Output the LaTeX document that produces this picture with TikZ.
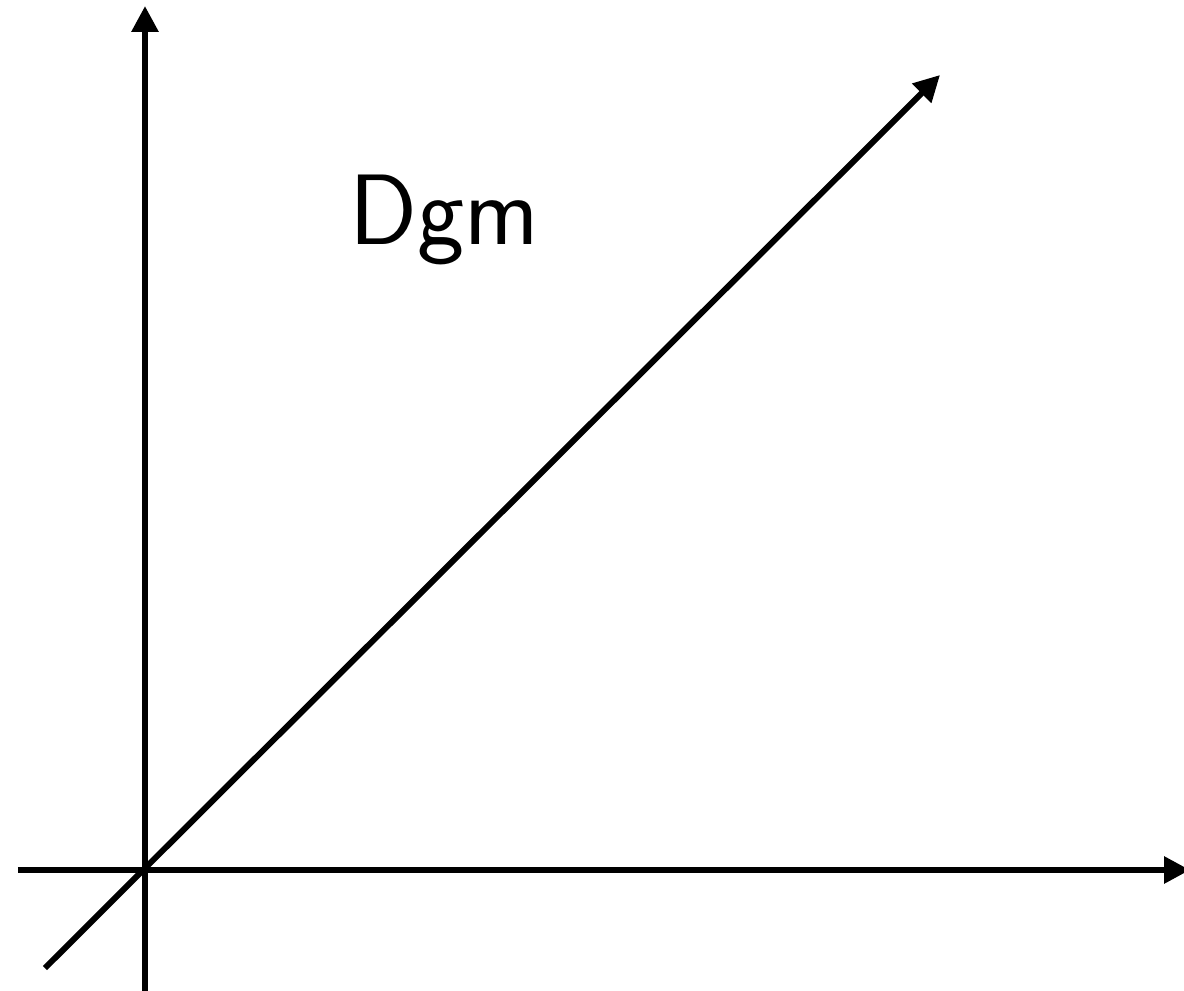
\documentclass[tikz,border=0pt]{standalone}
\usepackage{tikz}
\usetikzlibrary{arrows.meta}

\begin{document}
\begin{tikzpicture}[scale=1.0,
    axisline/.style={line width=1.7pt, -{Triangle[length=0.26cm, width=0.26cm]}}]
  % Fixed frame of the picture
  \useasboundingbox (-1.45,-1.20) rectangle (10.39,8.70);
  % End points of the axes and the diagonal
  \coordinate (origin) at (0,0);
  \coordinate (xstart) at (-1.27,0);
  \coordinate (xend) at (10.45,0);
  \coordinate (ystart) at (0,-1.22);
  \coordinate (yend) at (0,8.64);
  \coordinate (dstart) at (-1.00,-0.98);
  \coordinate (dend) at (7.95,7.95);
  % Axes
  \draw[axisline] (xstart) -- (xend);
  \draw[axisline] (ystart) -- (yend);
  % Diagonal
  \draw[axisline] (dstart) -- (dend);
  % Label
  \node[anchor=base, inner sep=0pt, font=\fontsize{28.5}{32}\selectfont\sffamily] (dgm) at (2.99,6.25) {Dgm};
\end{tikzpicture}
\end{document}
